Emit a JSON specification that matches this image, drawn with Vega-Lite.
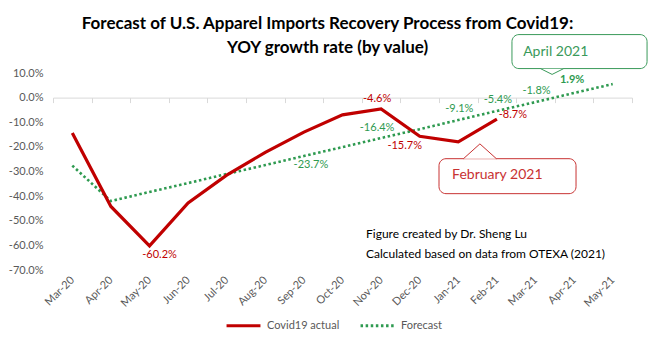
{
  "$schema": "https://vega.github.io/schema/vega-lite/v6.json",
  "width": 579,
  "height": 197,
  "autosize": {"type": "none"},
  "padding": {"left": 53, "top": 73, "right": 32, "bottom": 85},
  "background": "white",
  "title": {
    "text": ["Forecast of U.S. Apparel Imports Recovery Process from Covid19:", "YOY growth rate (by value)"],
    "font": "Lato", "fontSize": 17, "fontWeight": "bold", "color": "#000000",
    "anchor": "middle", "frame": "group", "dx": -15, "offset": -23, "lineHeight": 24
  },
  "config": {"view": {"stroke": null}, "font": "Lato", "axis": {"labelOverlap": false}},
  "data": {"values": [
    {"m": "Mar-20", "i": 0, "actual": -0.144, "forecast": -0.276},
    {"m": "Apr-20", "i": 1, "actual": -0.442, "forecast": -0.420},
    {"m": "May-20", "i": 2, "actual": -0.602, "forecast": -0.383},
    {"m": "Jun-20", "i": 3, "actual": -0.428, "forecast": -0.347},
    {"m": "Jul-20", "i": 4, "actual": -0.315, "forecast": -0.310},
    {"m": "Aug-20", "i": 5, "actual": -0.222, "forecast": -0.274},
    {"m": "Sep-20", "i": 6, "actual": -0.140, "forecast": -0.237},
    {"m": "Oct-20", "i": 7, "actual": -0.070, "forecast": -0.201},
    {"m": "Nov-20", "i": 8, "actual": -0.046, "forecast": -0.164},
    {"m": "Dec-20", "i": 9, "actual": -0.157, "forecast": -0.128},
    {"m": "Jan-21", "i": 10, "actual": -0.180, "forecast": -0.091},
    {"m": "Feb-21", "i": 11, "actual": -0.087, "forecast": -0.054},
    {"m": "Mar-21", "i": 12, "actual": null, "forecast": -0.018},
    {"m": "Apr-21", "i": 13, "actual": null, "forecast": 0.019},
    {"m": "May-21", "i": 14, "actual": null, "forecast": 0.055}
  ]},
  "layer": [
    {
      "mark": {"type": "line", "strokeWidth": 2.6, "strokeDash": [2.5, 2.6]},
      "encoding": {
        "x": {"field": "i", "type": "quantitative",
          "scale": {"domain": [-0.5, 14.5], "nice": false, "zero": false},
          "axis": {"orient": "bottom", "values": [0,1,2,3,4,5,6,7,8,9,10,11,12,13,14],
            "labelExpr": "['Mar-20','Apr-20','May-20','Jun-20','Jul-20','Aug-20','Sep-20','Oct-20','Nov-20','Dec-20','Jan-21','Feb-21','Mar-21','Apr-21','May-21'][datum.value]",
            "labelAngle": -45, "labelAlign": "right", "labelBaseline": "middle", "labelOverlap": false,
            "domain": false, "ticks": false, "tickSize": 0, "grid": false, "title": null,
            "labelColor": "#595959", "labelFontSize": 11, "labelPadding": 8, "labelFont": "Lato"}},
        "y": {"field": "forecast", "type": "quantitative",
          "scale": {"domain": [-0.7, 0.1], "nice": false, "zero": false},
          "axis": {"values": [-0.7,-0.6,-0.5,-0.4,-0.3,-0.2,-0.1,0,0.1],
            "labelExpr": "replace(format(datum.value,'.1%'),'\u2212','-')", "labelOverlap": false,
            "domain": false, "ticks": false, "tickSize": 0, "grid": false, "title": null,
            "labelColor": "#595959", "labelFontSize": 11, "labelPadding": 10, "labelFont": "Lato"}},
        "color": {"datum": "Forecast", "type": "nominal",
          "scale": {"domain": ["Covid19 actual", "Forecast"], "range": ["#c00000", "#2e9a50"]},
          "legend": {"orient": "none", "legendX": 172, "legendY": 234, "direction": "horizontal",
            "title": null, "symbolType": "stroke", "symbolSize": 1150, "symbolStrokeWidth": 3,
            "labelFontSize": 11, "labelColor": "#595959", "labelFont": "Lato", "columnPadding": 14,
            "labelOffset": 5,
            "encode": {"symbols": {"update": {"strokeDash": [{"test": "datum.value === 'Forecast'", "value": [2.5, 2.6]}, {"value": [1, 0]}]}}}}}
      }
    },
    {
      "mark": {"type": "line", "strokeWidth": 3.2},
      "encoding": {
        "x": {"field": "i", "type": "quantitative",
          "axis": {"orient": "top", "offset": -24.6,
            "values": [-0.5,0.5,1.5,2.5,3.5,4.5,5.5,6.5,7.5,8.5,9.5,10.5,11.5,12.5,13.5,14.5],
            "labels": false, "ticks": true, "tickSize": -5, "tickColor": "#d9d9d9",
            "domain": true, "domainColor": "#d9d9d9", "grid": false, "title": null}},
        "y": {"field": "actual", "type": "quantitative", "axis": null},
        "color": {"datum": "Covid19 actual", "type": "nominal"}
      }
    },
    {
      "transform": [{"filter": "datum.m === 'May-20'"}],
      "mark": {"type": "text", "dx": 10, "dy": 9, "fontSize": 11, "color": "#c00000",
        "text": {"expr": "replace(format(datum.actual,'.1%'),'\u2212','-')"}},
      "encoding": {"x": {"field": "i", "type": "quantitative", "axis": null},
        "y": {"field": "actual", "type": "quantitative", "axis": null}}
    },
    {
      "transform": [{"filter": "datum.m === 'Nov-20'"}],
      "mark": {"type": "text", "dx": -4, "dy": -10, "fontSize": 11, "color": "#c00000",
        "text": {"expr": "replace(format(datum.actual,'.1%'),'\u2212','-')"}},
      "encoding": {"x": {"field": "i", "type": "quantitative", "axis": null},
        "y": {"field": "actual", "type": "quantitative", "axis": null}}
    },
    {
      "transform": [{"filter": "datum.m === 'Dec-20'"}],
      "mark": {"type": "text", "dx": -15, "dy": 10, "fontSize": 11, "color": "#c00000",
        "text": {"expr": "replace(format(datum.actual,'.1%'),'\u2212','-')"}},
      "encoding": {"x": {"field": "i", "type": "quantitative", "axis": null},
        "y": {"field": "actual", "type": "quantitative", "axis": null}}
    },
    {
      "transform": [{"filter": "datum.m === 'Feb-21'"}],
      "mark": {"type": "text", "dx": 16, "dy": -4, "fontSize": 11, "color": "#c00000",
        "text": {"expr": "replace(format(datum.actual,'.1%'),'\u2212','-')"}},
      "encoding": {"x": {"field": "i", "type": "quantitative", "axis": null},
        "y": {"field": "actual", "type": "quantitative", "axis": null}}
    },
    {
      "transform": [{"filter": "datum.m === 'Sep-20'"}],
      "mark": {"type": "text", "dx": 7, "dy": 9, "fontSize": 11, "color": "#2e9a50",
        "text": {"expr": "replace(format(datum.forecast,'.1%'),'\u2212','-')"}},
      "encoding": {"x": {"field": "i", "type": "quantitative", "axis": null},
        "y": {"field": "forecast", "type": "quantitative", "axis": null}}
    },
    {
      "transform": [{"filter": "datum.m === 'Nov-20'"}],
      "mark": {"type": "text", "dx": -4, "dy": -10, "fontSize": 11, "color": "#2e9a50",
        "text": {"expr": "replace(format(datum.forecast,'.1%'),'\u2212','-')"}},
      "encoding": {"x": {"field": "i", "type": "quantitative", "axis": null},
        "y": {"field": "forecast", "type": "quantitative", "axis": null}}
    },
    {
      "transform": [{"filter": "datum.m === 'Jan-21' || datum.m === 'Feb-21' || datum.m === 'Mar-21'"}],
      "mark": {"type": "text", "dx": 1, "dy": -11, "fontSize": 11, "color": "#2e9a50",
        "text": {"expr": "replace(format(datum.forecast,'.1%'),'\u2212','-')"}},
      "encoding": {"x": {"field": "i", "type": "quantitative", "axis": null},
        "y": {"field": "forecast", "type": "quantitative", "axis": null}}
    },
    {
      "transform": [{"filter": "datum.m === 'Apr-21'"}],
      "mark": {"type": "text", "dx": -2, "dy": -13, "fontSize": 11, "fontWeight": "bold", "color": "#2e9a50",
        "text": {"expr": "replace(format(datum.forecast,'.1%'),'\u2212','-')"}},
      "encoding": {"x": {"field": "i", "type": "quantitative", "axis": null},
        "y": {"field": "forecast", "type": "quantitative", "axis": null}}
    },
    {
      "data": {"values": [{}]},
      "mark": {"type": "rect", "fill": "white", "stroke": "#3a9a5a", "strokeWidth": 1, "cornerRadius": 7},
      "encoding": {"x": {"datum": 11.39, "type": "quantitative", "axis": null}, "x2": {"datum": 14.89},
        "y": {"datum": 0.256, "type": "quantitative", "axis": null}, "y2": {"datum": 0.118}}
    },
    {
      "data": {"values": [{}]},
      "mark": {"type": "point", "shape": "M -1 -0.25 L 0 0.25 L 1 -0.25", "size": 529, "filled": true,
        "fill": "white", "stroke": "#3a9a5a", "strokeWidth": 1, "opacity": 1},
      "encoding": {"x": {"datum": 12.43, "type": "quantitative", "axis": null},
        "y": {"datum": 0.106, "type": "quantitative", "axis": null}}
    },
    {
      "data": {"values": [{}]},
      "mark": {"type": "text", "text": "April 2021", "fontSize": 14, "color": "#3a9a5a", "align": "left", "baseline": "middle"},
      "encoding": {"x": {"datum": 11.68, "type": "quantitative", "axis": null},
        "y": {"datum": 0.187, "type": "quantitative", "axis": null}}
    },
    {
      "data": {"values": [{}]},
      "mark": {"type": "rect", "fill": "white", "stroke": "#c83232", "strokeWidth": 1, "cornerRadius": 7},
      "encoding": {"x": {"datum": 9.5, "type": "quantitative", "axis": null}, "x2": {"datum": 13.05},
        "y": {"datum": -0.248, "type": "quantitative", "axis": null}, "y2": {"datum": -0.39}}
    },
    {
      "data": {"values": [{}]},
      "mark": {"type": "point", "shape": "M -1 0.45 L 0 -0.45 L 1 0.45", "size": 1089, "filled": true,
        "fill": "white", "stroke": "#c83232", "strokeWidth": 1, "opacity": 1},
      "encoding": {"x": {"datum": 10.56, "type": "quantitative", "axis": null},
        "y": {"datum": -0.218, "type": "quantitative", "axis": null}}
    },
    {
      "data": {"values": [{}]},
      "mark": {"type": "text", "text": "February 2021", "fontSize": 14, "color": "#c83232", "align": "left", "baseline": "middle"},
      "encoding": {"x": {"datum": 9.84, "type": "quantitative", "axis": null},
        "y": {"datum": -0.313, "type": "quantitative", "axis": null}}
    },
    {
      "data": {"values": [{}]},
      "mark": {"type": "text", "text": "Figure created by Dr. Sheng  Lu", "fontSize": 12, "color": "#000000", "align": "left", "baseline": "middle"},
      "encoding": {"x": {"datum": 7.61, "type": "quantitative", "axis": null},
        "y": {"datum": -0.553, "type": "quantitative", "axis": null}}
    },
    {
      "data": {"values": [{}]},
      "mark": {"type": "text", "text": "Calculated based on data from OTEXA (2021)", "fontSize": 12, "color": "#000000", "align": "left", "baseline": "middle"},
      "encoding": {"x": {"datum": 7.61, "type": "quantitative", "axis": null},
        "y": {"datum": -0.634, "type": "quantitative", "axis": null}}
    }
  ],
  "resolve": {"axis": {"x": "independent", "y": "independent"}}
}
